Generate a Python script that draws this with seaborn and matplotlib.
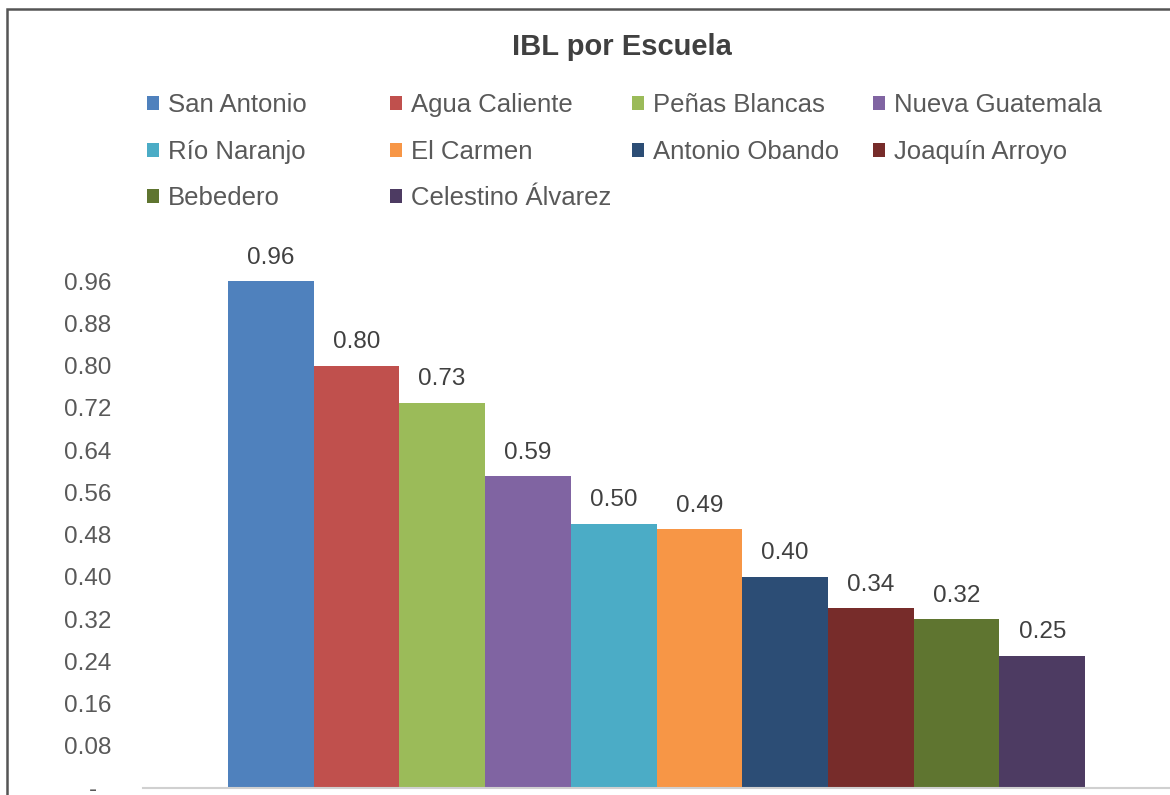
import matplotlib
matplotlib.use("Agg")
import matplotlib.pyplot as plt
import seaborn as sns
import pandas as pd
from matplotlib.patches import Patch, Rectangle

schools = ["San Antonio", "Agua Caliente", "Peñas Blancas", "Nueva Guatemala",
           "Río Naranjo", "El Carmen", "Antonio Obando", "Joaquín Arroyo",
           "Bebedero", "Celestino Álvarez"]
values = [0.96, 0.80, 0.73, 0.59, 0.50, 0.49, 0.40, 0.34, 0.32, 0.25]
colors = ["#4F81BD", "#C0504D", "#9BBB59", "#8064A2", "#4BACC6",
          "#F79646", "#2C4D75", "#772C2A", "#5F7530", "#4D3B62"]
yticks = [0, 0.08, 0.16, 0.24, 0.32, 0.40, 0.48, 0.56, 0.64, 0.72, 0.80, 0.88, 0.96]
title = "IBL por Escuela"

sns.set_style("white")
plt.rcParams['font.family'] = ['Liberation Sans', 'DejaVu Sans']

df = pd.DataFrame({"Escuela": schools, "IBL": values})

fig = plt.figure(figsize=(11.7, 7.95), dpi=100)
ax = fig.add_axes([143/1170, 7/795, (1170-143)/1170, (1 - 260/795) - 7/795])

sns.barplot(data=df, x="Escuela", y="IBL", hue="Escuela", palette=colors,
            order=schools, hue_order=schools, width=1.0, saturation=1,
            linewidth=0, legend=False, ax=ax, dodge=False)

ax.set_xlim(-1.49, 10.49)
ax.set_ylim(0, 1.0)
ax.set_yticks(yticks)
ax.set_yticklabels(["-  "] + [f"{v:.2f}" for v in yticks[1:]])
ax.tick_params(axis='y', length=0, pad=23, labelsize=17.5, labelcolor="#595959")
ax.set_xticks([])
ax.set_xlabel("")
ax.set_ylabel("")
for s in ["left", "right", "top"]:
    ax.spines[s].set_visible(False)
ax.spines["bottom"].set_color("#d0d0d0")
ax.spines["bottom"].set_linewidth(1.5)

for c in ax.containers:
    ax.bar_label(c, fmt="%.2f", padding=9, fontsize=17.5, color="#404040")

fig.text(622/1170, 1 - 47/795, title, ha="center", va="center",
         fontsize=21, fontweight="bold", color="#404040")

col_x = [147, 390, 632, 873]
row_y = [105, 152, 198]
for i, (name, col) in enumerate(zip(schools, colors)):
    r, c = divmod(i, 4)
    fig.legend(handles=[Patch(facecolor=col, edgecolor="none", label=name)],
               loc="center left",
               bbox_to_anchor=(col_x[c]/1170, 1 - row_y[r]/795),
               frameon=False, fontsize=18.5, handlelength=0.45,
               handleheight=0.45, handletextpad=0.35, borderpad=0,
               borderaxespad=0, labelcolor="#595959")

fig.add_artist(Rectangle((7/1170, -0.5), 2, 0.5 + 1 - 9/795,
                         transform=fig.transFigure, fill=False,
                         edgecolor="#555555", linewidth=1.8))

fig.savefig("out.png", dpi=100)
